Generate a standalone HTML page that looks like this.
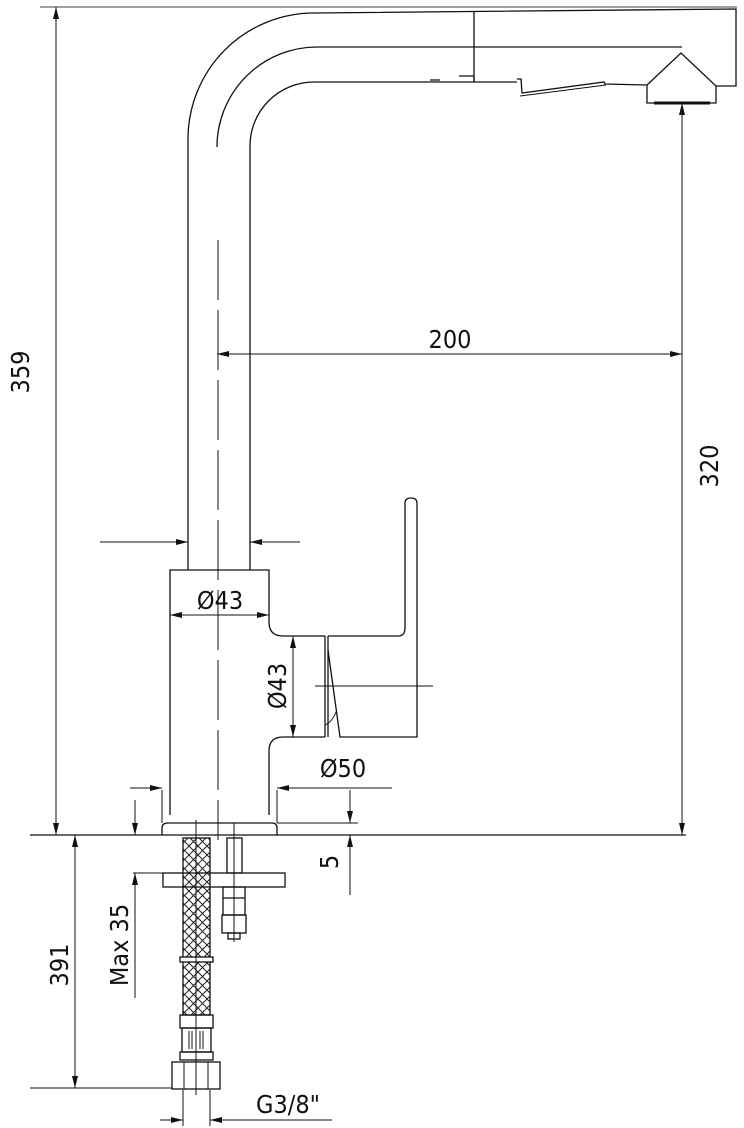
<!DOCTYPE html>
<html><head><meta charset="utf-8"><style>
html,body{margin:0;padding:0;background:#fff;}
svg{display:block;}
text{font-family:"DejaVu Sans Condensed","Liberation Sans",sans-serif;font-size:25px;fill:#111;}
</style></head><body>
<svg width="744" height="1128" viewBox="0 0 744 1128" xmlns="http://www.w3.org/2000/svg">
<defs>
<marker id="a" viewBox="0 0 12 6" refX="12" refY="3" markerWidth="12" markerHeight="6" orient="auto-start-reverse" markerUnits="userSpaceOnUse"><path d="M0,0 L12,3 L0,6 Z" fill="#111"/></marker>
<pattern id="x" width="9" height="9" patternUnits="userSpaceOnUse"><path d="M0,0 L9,9 M9,0 L0,9" stroke="#222" stroke-width="1"/></pattern>
</defs>
<g stroke="#111" stroke-width="1.3" fill="none">
<line x1="40" y1="7" x2="737" y2="7" stroke="#666"/>
<path d="M188,540 L188,139 A126,126 0 0 1 314,13 L736,9 L736,86 L716,86"/>
<path d="M217,147 A100,100 0 0 1 317,47 L682,47"/>
<path d="M250,540 L250,146 A64,64 0 0 1 314,82 L517,82"/>
<line x1="474" y1="12" x2="474" y2="82"/>
<path d="M430,80 L440,80 M459,76 L474,76 L474,82"/>
<path d="M517,79 L521,79 L522,93 L604,82 L605,84 L647,85"/>
<path d="M520,96 L606,85" stroke-width="1"/>
<path d="M647,85 L681,53 L716,86 L716,103 L647,103 Z"/>
<line x1="654" y1="103" x2="710" y2="103" stroke-width="3"/>
<line x1="218" y1="240" x2="218" y2="840" stroke-dasharray="60,10" stroke-width="1"/>
<path d="M188,540 L188,570 M250,540 L250,570"/>
<path d="M170,815 L170,570 L269,570 L269,622 Q269,636 283,636 L325,636"/>
<path d="M269,815 L269,751 Q269,737 283,737 L325,737"/>
<path d="M325,636 L325,737 M328,636 L328,737"/>
<path d="M328,636 L398,636 Q405,636 405,628 L405,503 Q405,498 411,498 Q417,498 417,503 L417,737 L340,737 L328,650"/>
<path d="M325,725 Q332,722 336,712" stroke-width="1"/>
<line x1="315" y1="686" x2="433" y2="686" stroke-width="1"/>
<path d="M162,835 L162,828 Q162,823 168,823 L272,823 Q277,823 277,828 L277,835"/>
<line x1="30" y1="835" x2="686" y2="835"/>
<line x1="277" y1="823" x2="358" y2="823" stroke-width="1"/>
<rect x="183" y="838" width="27" height="177" fill="url(#x)"/>
<rect x="180" y="957" width="33" height="5" fill="#fff"/>
<rect x="180" y="1015" width="33" height="13"/>
<rect x="182" y="1028" width="29" height="24"/>
<path d="M189,1031 v18 M196,1031 v18 M203,1031 v18 M192,1031 v18 M200,1031 v18" stroke-width="1"/>
<rect x="180" y="1052" width="33" height="8"/>
<rect x="172" y="1062" width="48" height="27"/>
<path d="M184,1062 v27 M208,1062 v27" stroke-width="1"/>
<line x1="196" y1="820" x2="196" y2="1095" stroke-width="1"/>
<rect x="227" y="838" width="15" height="35"/>
<rect x="163" y="873" width="122" height="14"/>
<rect x="223" y="887" width="22" height="28"/>
<line x1="223" y1="898" x2="245" y2="898"/>
<rect x="222" y="915" width="24" height="18"/>
<rect x="228" y="933" width="12" height="6"/>
<line x1="234" y1="823" x2="234" y2="942" stroke-width="1"/>
<line x1="56" y1="7" x2="56" y2="835" marker-start="url(#a)" marker-end="url(#a)" stroke-width="1"/>
<line x1="217" y1="354" x2="682" y2="354" marker-start="url(#a)" marker-end="url(#a)" stroke-width="1"/>
<line x1="682" y1="103" x2="682" y2="835" marker-start="url(#a)" marker-end="url(#a)" stroke-width="1"/>
<line x1="100" y1="542" x2="188" y2="542" marker-end="url(#a)" stroke-width="1"/>
<line x1="300" y1="542" x2="250" y2="542" marker-end="url(#a)" stroke-width="1"/>
<line x1="170" y1="615" x2="269" y2="615" marker-start="url(#a)" marker-end="url(#a)" stroke-width="1"/>
<line x1="293" y1="636" x2="293" y2="737" marker-start="url(#a)" marker-end="url(#a)" stroke-width="1"/>
<line x1="162" y1="790" x2="162" y2="823" stroke-width="1"/>
<line x1="277" y1="790" x2="277" y2="823" stroke-width="1"/>
<line x1="130" y1="788" x2="162" y2="788" marker-end="url(#a)" stroke-width="1"/>
<line x1="392" y1="788" x2="277" y2="788" marker-end="url(#a)" stroke-width="1"/>
<line x1="350" y1="790" x2="350" y2="823" marker-end="url(#a)" stroke-width="1"/>
<line x1="350" y1="895" x2="350" y2="835" marker-end="url(#a)" stroke-width="1"/>
<line x1="75" y1="835" x2="75" y2="1088" marker-start="url(#a)" marker-end="url(#a)" stroke-width="1"/>
<line x1="30" y1="1088" x2="172" y2="1088" stroke-width="1"/>
<line x1="135" y1="800" x2="135" y2="835" marker-end="url(#a)" stroke-width="1"/>
<line x1="135" y1="998" x2="135" y2="873" marker-end="url(#a)" stroke-width="1"/>
<line x1="133" y1="873" x2="163" y2="873" stroke-width="1"/>
<line x1="183" y1="1090" x2="183" y2="1126" stroke-width="1"/>
<line x1="210" y1="1090" x2="210" y2="1126" stroke-width="1"/>
<line x1="160" y1="1120" x2="183" y2="1120" marker-end="url(#a)" stroke-width="1"/>
<line x1="332" y1="1120" x2="210" y2="1120" marker-end="url(#a)" stroke-width="1"/>
</g>
<text x="450" y="348" text-anchor="middle">200</text>
<text transform="translate(718,466) rotate(-90)" text-anchor="middle">320</text>
<text transform="translate(29,372) rotate(-90)" text-anchor="middle">359</text>
<text x="220" y="609" text-anchor="middle">Ø43</text>
<text transform="translate(286,686) rotate(-90)" text-anchor="middle">Ø43</text>
<text x="343" y="777" text-anchor="middle">Ø50</text>
<text transform="translate(338,862) rotate(-90)" text-anchor="middle">5</text>
<text transform="translate(128,945) rotate(-90)" text-anchor="middle">Max 35</text>
<text transform="translate(68,965) rotate(-90)" text-anchor="middle">391</text>
<text x="288" y="1113" text-anchor="middle">G3/8"</text>
</svg>
</body></html>
